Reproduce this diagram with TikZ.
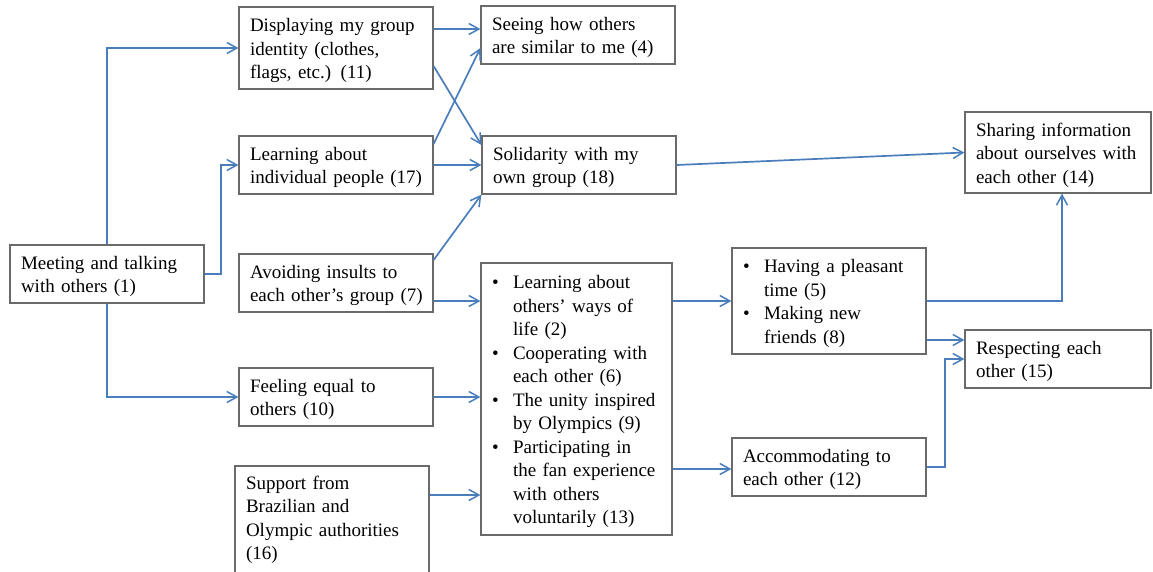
\documentclass[tikz,border=0pt]{standalone}
\usepackage{fontspec}
\setmainfont{Liberation Serif}
\usetikzlibrary{arrows.meta}

\definecolor{boxgray}{HTML}{6A6A6A}
\definecolor{linkblue}{HTML}{4A7EBB}

% line layout helpers: text set slightly low in its box, as in a text frame
\newcommand{\tlines}[1]{\raisebox{-2.5pt}[\height][\depth]{\begin{tabular}{@{}l@{}}#1\end{tabular}}}
\newcommand{\bul}{\makebox[21pt][l]{\textbullet}}
\newcommand{\ind}{\hspace*{21pt}}

\tikzset{
  box/.style={draw=boxgray, line width=1.2pt, rectangle, inner xsep=11pt,
    inner ysep=0pt, align=left, font=\fontsize{19}{23.5}\selectfont},
  wbox/.style={box, minimum width=194pt, text width=172pt},
  link/.style={draw=linkblue, line width=1.7pt,
    -{Straight Barb[length=10pt,width=11pt,line width=1.5pt]}},
}

\begin{document}
\begin{tikzpicture}[x=1pt,y=-1pt]
\useasboundingbox (0,0) rectangle (1153,571);
\clip (0,0) rectangle (1153,571);

% left column
\node[wbox, minimum height=58pt] (n1) at (107,274)
  {\tlines{Meeting and talking\\with others (1)}};

% second column
\node[wbox, minimum height=82pt] (n11) at (336,48)
  {\tlines{Displaying my group\\identity (clothes,\\flags, etc.) (11)}};
\node[wbox, minimum height=58pt] (n17) at (336,165)
  {\tlines{Learning about\\individual people (17)}};
\node[wbox, minimum height=58pt] (n7) at (336,283)
  {\tlines{Avoiding insults to\\each other’s group (7)}};
\node[wbox, minimum height=58pt] (n10) at (336,397)
  {\tlines{Feeling equal to\\others (10)}};
% this box runs on past the lower edge; the rule keeps its text at the top
\node[wbox, minimum height=112pt] (n16) at (332,522)
  {\tlines{Support from\\Brazilian and\\Olympic authorities\\(16)\rule[-16pt]{0pt}{0pt}}};

% third column
\node[wbox, minimum height=58pt] (n4) at (578,35)
  {\tlines{Seeing how others\\are similar to me (4)}};
\node[wbox, minimum height=58pt] (n18) at (579,165)
  {\tlines{Solidarity with my\\own group (18)}};
\node[box, minimum width=191pt, text width=169pt, minimum height=272pt] (nL) at (576.5,399)
  {\tlines{\bul Learning about\\\ind others’ ways of\\\ind life (2)\\
   \bul Cooperating with\\\ind each other (6)\\
   \bul The unity inspired\\\ind by Olympics (9)\\
   \bul Participating in\\\ind the fan experience\\\ind with others\\\ind voluntarily (13)}};

% fourth column
\node[wbox, minimum height=106pt] (n58) at (829,301)
  {\tlines{\bul Having a pleasant\\\ind time (5)\\\bul Making new\\\ind friends (8)}};
\node[wbox, minimum height=58pt] (n12) at (829,467)
  {\tlines{Accommodating to\\each other (12)}};

% right column
\node[box, minimum width=186pt, text width=164pt, minimum height=81pt] (n14) at (1058,152.5)
  {\tlines{Sharing information\\about ourselves with\\each other (14)}};
\node[box, minimum width=186pt, text width=164pt, minimum height=58pt] (n15) at (1058,359)
  {\tlines{Respecting each\\other (15)}};

% connectors
\draw[link] (n1.north) |- (n11.west);
\draw[link] (n1.east) -- ++(16.4,0) |- (n17.west);
\draw[link] (n1.south) |- (n10.west);

\draw[link] ([yshift=19pt]n11.east) -- ([yshift=19pt]n11.east -| n4.west);
\draw[link] ([yshift=-18pt]n11.east) -- ([yshift=20pt]n18.west);
\draw[link] ([yshift=21pt]n17.east) -- ([yshift=-13pt]n4.west);
\draw[link] (n17.east) -- (n18.west);
\draw[link] ([yshift=23pt]n7.east) -- (n18.south west);
\draw[link] ([yshift=-18pt]n7.east) -- ([yshift=-18pt]n7.east -| nL.west);
\draw[link] (n10.east) -- (n10.east -| nL.west);
\draw[link] ([yshift=27pt]n16.east) -- ([yshift=27pt]n16.east -| nL.west);

\draw[link] (n18.east) -- (n14.west);
\draw[link] ([yshift=98pt]nL.east) -- ([yshift=98pt]nL.east -| n58.west);
\draw[link] ([yshift=-70pt]nL.east) -- ([yshift=-70pt]nL.east -| n12.west);

\draw[link] (n58.east) -| ([xshift=4pt]n14.south);
\draw[link] ([yshift=-39pt]n58.east) -- ([yshift=-39pt]n58.east -| n15.west);
\draw[link] (n12.east) -- ++(18.4,0) |- (n15.west);
\end{tikzpicture}
\end{document}
